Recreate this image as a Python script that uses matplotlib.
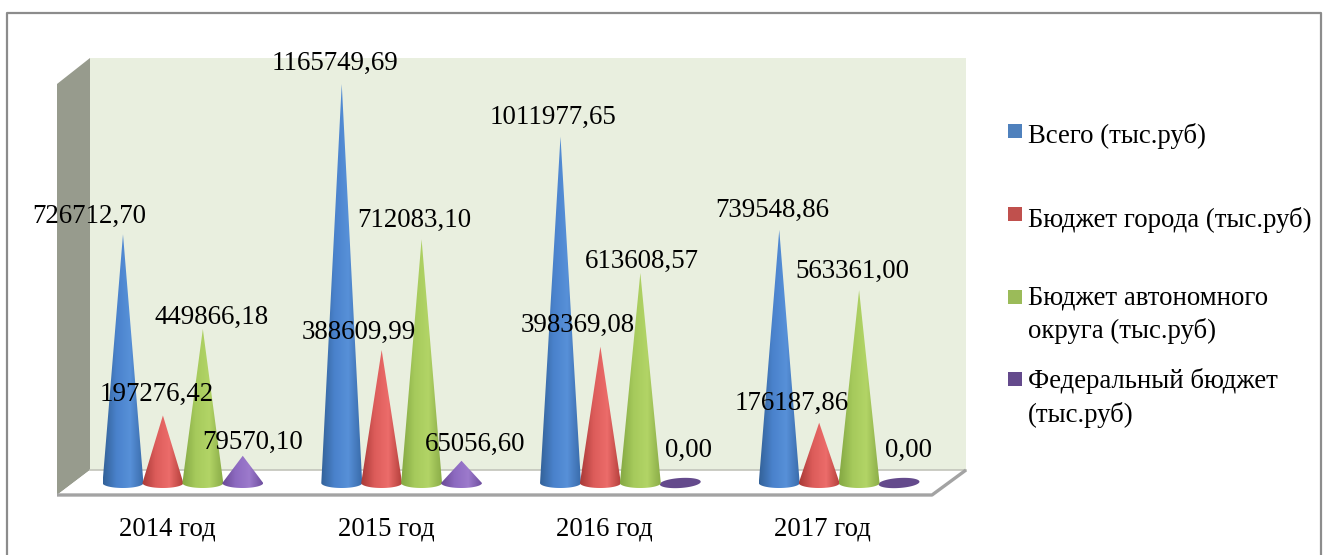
import numpy as np
import matplotlib
matplotlib.use('Agg')
import matplotlib.pyplot as plt
from matplotlib.colors import LinearSegmentedColormap
from matplotlib.patches import Polygon, Rectangle

years = ['2014 год', '2015 год', '2016 год', '2017 год']
total = [726712.70, 1165749.69, 1011977.65, 739548.86]
city = [197276.42, 388609.99, 398369.08, 176187.86]
okrug = [449866.18, 712083.10, 613608.57, 563361.00]
federal = [79570.10, 65056.60, 0.00, 0.00]
series = [total, city, okrug, federal]
legend_labels = ['Всего (тыс.руб)', 'Бюджет города (тыс.руб)',
                 'Бюджет автономного\nокруга (тыс.руб)', 'Федеральный бюджет\n(тыс.руб)']

# dark edge, light middle, dark edge
ramps = [['#336299', '#4a82cc', '#5790d8', '#3a6cab'],
         ['#a93a37', '#dc5c5a', '#ec6c6a', '#b5403c'],
         ['#84a843', '#a6ca5c', '#b2d466', '#8bad48'],
         ['#6a4a96', '#8d6ac0', '#9c7acc', '#7050a0']]
flat_colors = ['#4f81bd', '#c0504d', '#9bbb59', '#644a8c']

# label centres in pixels, per series
label_xy = [[(89, 216), (335, 63), (553, 117), (772, 210)],
            [(157, 394), (359, 332), (578, 325), (792, 403)],
            [(212, 317), (414, 220), (642, 261), (852, 271)],
            [(253, 442), (475, 444), (688, 450), (908, 450)]]

W, H = 1323, 555
plt.rcParams['font.family'] = ['Liberation Serif', 'DejaVu Serif']
fig = plt.figure(figsize=(W / 100, H / 100), dpi=100)

# page layer in pixel coordinates: frame, walls, floor, legend
bg = fig.add_axes([0, 0, 1, 1], zorder=1)
bg.set_xlim(0, W)
bg.set_ylim(H, 0)
bg.axis('off')
bg.plot([7, 7, 1321, 1321], [H, 13, 13, H], color='#8c8c8c', lw=1.6)
bg.add_patch(Polygon([(90, 58), (966, 58), (966, 470), (90, 470)], fc='#e9efdf', ec='none'))
bg.add_patch(Polygon([(57, 84), (90, 58), (90, 470), (57, 495)], fc='#979b8d', ec='none'))
bg.add_patch(Polygon([(57, 495), (90, 470), (966, 470), (932, 495)], fc='white', ec='none'))
bg.plot([90, 966], [470, 470], color='#c2c4ba', lw=1.2)
bg.plot([57, 932, 966], [495, 495, 470], color='#a3a3a3', lw=2.4, solid_capstyle='butt')

legend_y = [131, 214, 297, 379]
text_y = [136, 220, 315, 398]
for c, y, ty, lab in zip(flat_colors, legend_y, text_y, legend_labels):
    bg.add_patch(Rectangle((1008, y - 7), 14, 14, fc=c, ec='none'))
    bg.text(1028, ty, lab, fontsize=19.25, va='center', ha='left', linespacing=1.35)

for x, lab in zip([167, 386, 604, 822], years):
    bg.text(x, 529, lab, fontsize=19.25, ha='center', va='center')

# chart layer: categories on x, values on y
px0, px1 = 73.5, 948.5
py_base, py_top = 483, 84
below = 14
ax = fig.add_axes([px0 / W, 1 - (py_base + below) / H, (px1 - px0) / W,
                   (py_base + below - py_top) / H], zorder=2)
ax.patch.set_alpha(0)
ax.axis('off')
ymax = max(total)
per_px = ymax / (py_base - py_top)
cone_w = 0.187
step = 0.1825
ell_h = 10 * per_px
tilt = 1.3 * per_px  # the flat discs lean up to the right

for s, vals in enumerate(series):
    cmap = LinearSegmentedColormap.from_list('c', ramps[s])
    grad = np.linspace(0, 1, 64).reshape(1, -1)
    for i, v in enumerate(vals):
        xc = i + (s - 1.5) * step
        if v == 0:
            t = np.linspace(0, 2 * np.pi, 80)
            disc = [(xc + cone_w / 2 * np.cos(a), ell_h / 2 * np.sin(a) + tilt * np.cos(a)) for a in t]
            ax.add_patch(Polygon(disc, closed=True, fc=flat_colors[s], ec='none'))
            continue
        t = np.linspace(np.pi, 2 * np.pi, 40)
        pts = [(xc, v)] + [(xc + cone_w / 2 * np.cos(a), ell_h / 2 * np.sin(a)) for a in t]
        poly = Polygon(pts, closed=True, transform=ax.transData, fc='none', ec='none')
        ax.add_patch(poly)
        im = ax.imshow(grad, cmap=cmap, aspect='auto', interpolation='bilinear',
                       extent=(xc - cone_w / 2, xc + cone_w / 2, -ell_h, v), zorder=2)
        im.set_clip_path(poly)

ax.set_xlim(-0.5, 3.5)
ax.set_ylim(-below * per_px, ymax)

# value labels on top of everything
top = fig.add_axes([0, 0, 1, 1], zorder=3)
top.set_xlim(0, W)
top.set_ylim(H, 0)
top.axis('off')
for vals, xys in zip(series, label_xy):
    for v, (x, y) in zip(vals, xys):
        top.text(x, y, f'{v:.2f}'.replace('.', ','), fontsize=19.4, ha='center', va='center')

fig.savefig('out.png', dpi=100)
